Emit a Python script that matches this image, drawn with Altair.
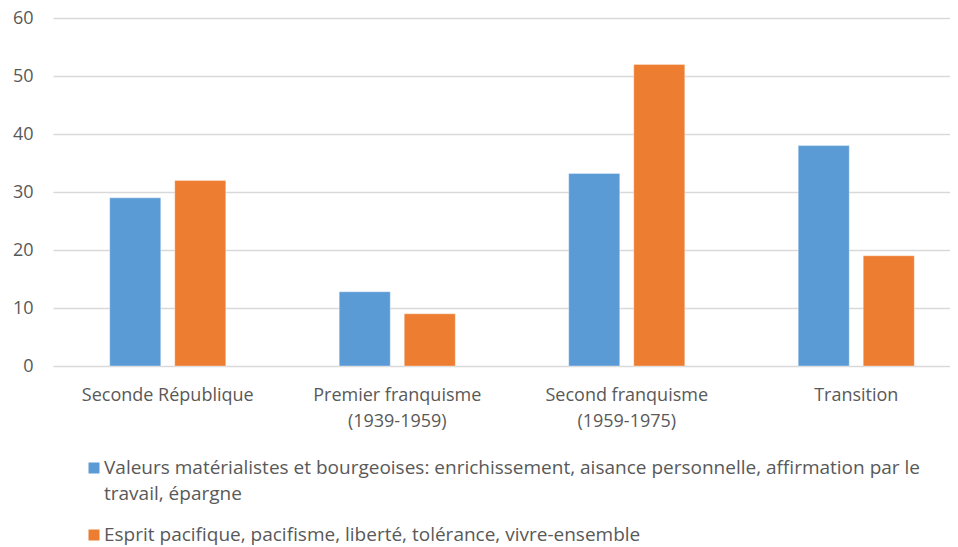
import altair as alt
import pandas as pd

categories = [
    "Seconde République",
    "Premier franquisme (1939-1959)",
    "Second franquisme (1959-1975)",
    "Transition",
]
series = [
    "Valeurs matérialistes et bourgeoises: enrichissement, aisance personnelle, affirmation par le travail, épargne",
    "Esprit pacifique, pacifisme, liberté, tolérance, vivre-ensemble",
]
values_materialistes = [29, 12.8, 33.2, 38]
values_pacifique = [32, 9, 52, 19]
colors = ["#5B9BD5", "#ED7D31"]
y_ticks = [0, 10, 20, 30, 40, 50, 60]

rows = []
for c, v in zip(categories, values_materialistes):
    rows.append({"cat": c, "serie": series[0], "val": v})
for c, v in zip(categories, values_pacifique):
    rows.append({"cat": c, "serie": series[1], "val": v})
df = pd.DataFrame(rows)
leg_df = pd.DataFrame({"serie": series})

FONT = "Open Sans"
FS = 18
LEG_FS = 19
GREY = "#595959"

cat_label = ("indexof(datum.label, '(') > 0 ? "
             "[substring(datum.label, 0, indexof(datum.label, '(') - 1), "
             "substring(datum.label, indexof(datum.label, '('))] : datum.label")
leg_label = ("indexof(datum.serie, ' travail') > 0 ? "
             "[substring(datum.serie, 0, indexof(datum.serie, ' travail')), "
             "substring(datum.serie, indexof(datum.serie, ' travail') + 1)] : datum.serie")

color_enc = alt.Color("serie:N", sort=series, legend=None,
                      scale=alt.Scale(domain=series, range=colors))

bars = alt.Chart(df).mark_bar(stroke="#FFFFFF", strokeOpacity=0.35, strokeWidth=1).encode(
    x=alt.X("cat:N", sort=categories, title=None,
            scale=alt.Scale(range=[0, 918], paddingInner=0, paddingOuter=0),
            axis=alt.Axis(labelExpr=cat_label, labelAngle=0, labelPadding=20, tickSize=0,
                          ticks=False, domain=False, labelFontSize=FS, labelFont=FONT,
                          labelColor=GREY, labelLineHeight=26, labelBaseline="top",
                          labelLimit=0)),
    xOffset=alt.XOffset("serie:N", sort=series,
                        scale=alt.Scale(paddingInner=0.215, paddingOuter=0.872)),
    y=alt.Y("val:Q", title=None,
            scale=alt.Scale(domain=[0, 60], nice=False),
            axis=alt.Axis(values=y_ticks, labelPadding=20, tickSize=0, ticks=False,
                          domain=False, labelFontSize=FS, labelFont=FONT,
                          labelColor=GREY, gridColor="#D9D9D9", gridWidth=1.3)),
    color=color_enc,
)

leg_y = alt.Y("serie:N", sort=series, axis=None,
              scale=alt.Scale(domain=series, range=[450, 517], padding=0))

leg_sym = alt.Chart(leg_df).mark_square(size=121, opacity=1).encode(
    x=alt.value(41), y=leg_y, color=color_enc)

leg_txt = alt.Chart(leg_df).transform_calculate(lines=leg_label).mark_text(
    align="left", baseline="line-top", dy=-13, lineHeight=26, fontSize=LEG_FS,
    font=FONT, color=GREY).encode(
    x=alt.value(51), y=leg_y, text=alt.Text("lines:N"))

chart = alt.layer(bars, leg_sym, leg_txt).resolve_scale(y="independent").properties(
    width=897, height=348,
    autosize=alt.AutoSizeParams(type="none"),
    padding={"left": 45, "top": 10, "right": 0, "bottom": 186},
).configure_view(stroke=None)

chart.save("out.html", embed_options={"renderer": "svg", "actions": False})
